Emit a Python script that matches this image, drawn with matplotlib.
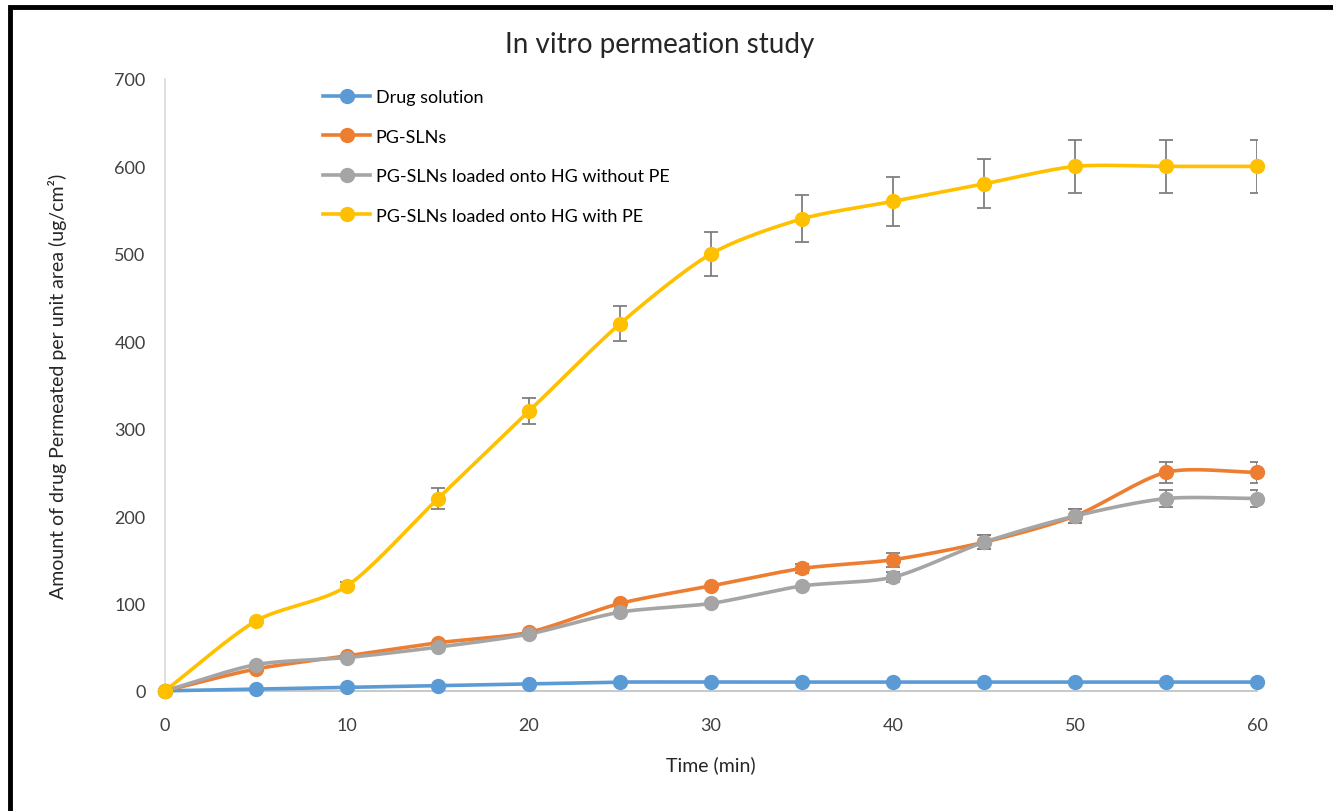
import matplotlib.pyplot as plt
import numpy as np
from matplotlib.patches import Rectangle

# time points (min)
time = np.array([0, 5, 10, 15, 20, 25, 30, 35, 40, 45, 50, 55, 60])

drug_solution = np.array([0, 2, 4, 6, 8, 10, 10, 10, 10, 10, 10, 10, 10])
pg_slns = np.array([0, 25, 40, 55, 67, 100, 120, 140, 150, 170, 200, 250, 250])
hg_without_pe = np.array([0, 30, 38, 50, 65, 90, 100, 120, 130, 170, 200, 220, 220])
hg_with_pe = np.array([0, 80, 120, 220, 320, 420, 500, 540, 560, 580, 600, 600, 600])

# error bars (+/-)
err_drug = np.array([0, 0, 0, 0, 0, 0, 0, 0, 0, 0, 0, 0, 0])
err_pg = np.array([0, 0, 0, 0, 0, 0, 0, 5, 8, 8, 8, 12, 12])
err_without = np.array([0, 0, 0, 0, 0, 0, 0, 0, 6, 8, 8, 10, 10])
err_with = np.array([0, 0, 5, 12, 15, 20, 25, 27, 28, 28, 30, 30, 30])

labels = ["Drug solution", "PG-SLNs", "PG-SLNs loaded onto HG without PE",
          "PG-SLNs loaded onto HG with PE"]
colors = ["#5b9bd5", "#ed7d31", "#a5a5a5", "#ffc000"]


def smooth(x, y, n=20):
    # catmull-rom curve through the points, like Excel's smoothed line
    xs, ys = [], []
    px = np.concatenate([[2 * x[0] - x[1]], x, [2 * x[-1] - x[-2]]])
    py = np.concatenate([[2 * y[0] - y[1]], y, [2 * y[-1] - y[-2]]])
    t = np.linspace(0, 1, n)
    for i in range(1, len(px) - 2):
        for p, out in ((px, xs), (py, ys)):
            p0, p1, p2, p3 = p[i - 1], p[i], p[i + 1], p[i + 2]
            m1 = (p2 - p0) / 2 * 0.8
            m2 = (p3 - p1) / 2 * 0.8
            h00 = 2 * t**3 - 3 * t**2 + 1
            h10 = t**3 - 2 * t**2 + t
            h01 = -2 * t**3 + 3 * t**2
            h11 = t**3 - t**2
            out.extend(h00 * p1 + h10 * m1 + h01 * p2 + h11 * m2)
    return np.array(xs), np.array(ys)


plt.rcParams['font.family'] = ['Lato', 'DejaVu Sans']
fig = plt.figure(figsize=(13.33, 8.12), dpi=100)
ax = fig.add_axes([0.1238, 0.148, 0.8192, 0.7535])

series = [drug_solution, pg_slns, hg_without_pe, hg_with_pe]
errors = [err_drug, err_pg, err_without, err_with]
for y, e, c, lab in zip(series, errors, colors, labels):
    sx, sy = smooth(time, y)
    ax.plot(sx, sy, color=c, lw=2.6, zorder=3, clip_on=False)
    mask = e > 0
    ax.errorbar(time[mask], y[mask], yerr=e[mask], fmt="none", ecolor="#7f7f7f",
                elinewidth=1.3, capsize=5, capthick=1.3, zorder=2)
    ax.plot(time, y, "o", color=c, ms=10, zorder=4, clip_on=False)
    ax.plot([], [], "-o", color=c, lw=2.6, ms=10, label=lab)

ax.set_xlim(0, 60)
ax.set_ylim(0, 700)
ax.set_xticks(np.arange(0, 61, 10))
ax.set_yticks(np.arange(0, 701, 100))
ax.tick_params(length=0, labelsize=13, colors="#404040")
ax.tick_params(axis="x", pad=19)
ax.tick_params(axis="y", pad=14)
for s in ["top", "right"]:
    ax.spines[s].set_visible(False)
ax.spines["left"].set_color("#d9d9d9")
ax.spines["bottom"].set_color("#bfbfbf")
ax.spines["left"].set_linewidth(1.2)
ax.spines["bottom"].set_linewidth(1.2)

ax.set_xlabel("Time (min)", fontsize=14, color="#262626", labelpad=16)
ax.set_ylabel("Amount of drug Permeated per unit area (ug/cm²)", fontsize=14,
              color="#262626", labelpad=34)
fig.text(0.495, 0.945, "In vitro permeation study", fontsize=20, ha="center",
         va="center", color="#262626")

ax.legend(loc="upper left", bbox_to_anchor=(0.13, 1.01), frameon=False,
          fontsize=13, handlelength=2.6, labelspacing=1.3, handletextpad=0.3)

# black frame at the left and top of the picture
fig.add_artist(Rectangle((0.0075, -0.05), 1.5, 1.04, transform=fig.transFigure,
                         fill=False, edgecolor="black", lw=3.5))

fig.savefig("out.png", dpi=100)
